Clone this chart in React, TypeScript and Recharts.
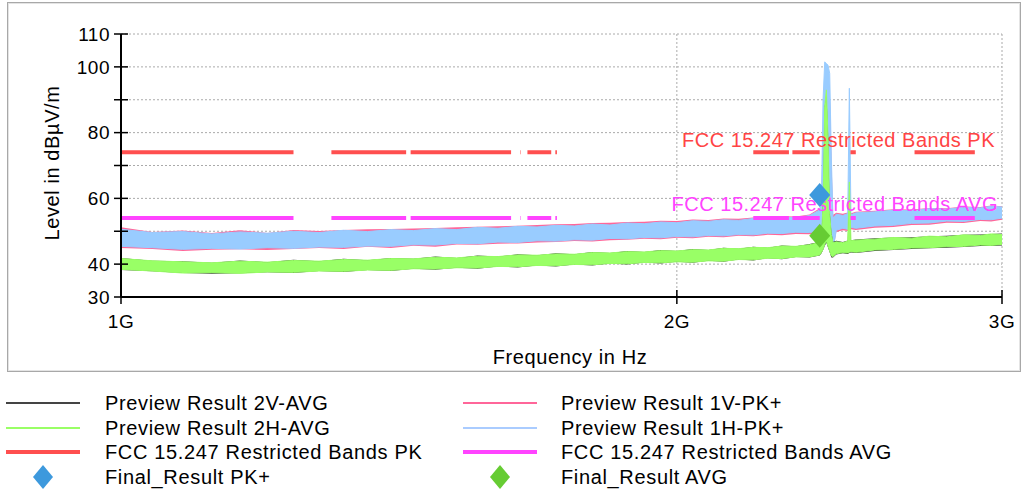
import React from "react";
import {
  ComposedChart,
  Area,
  Line,
  Scatter,
  XAxis,
  YAxis,
  CartesianGrid,
  ReferenceLine,
} from "recharts";

// frequency grid of the preview scans, MHz
const freqMHz = [
  1000, 1040, 1080, 1120, 1160, 1200, 1240, 1280, 1320, 1360, 1400, 1440, 1480, 1520, 1560,
  1600, 1640, 1680, 1720, 1760, 1800, 1840, 1880, 1920, 1960, 2000, 2040, 2080, 2120, 2160,
  2200, 2240, 2280, 2320, 2360, 2390, 2395, 2400, 2405, 2410, 2415, 2420, 2425, 2430, 2440,
  2460, 2475, 2480, 2485, 2500, 2560, 2620, 2680, 2740, 2800, 2860, 2920, 2960, 3000,
];

// Preview Result 1V-PK+ (min / max of the noisy trace)
const pk1VLow = [
  44.9, 44.6, 44.0, 44.4, 44.5, 44.3, 44.6, 44.9, 44.6, 45.3, 44.9, 45.6, 45.3, 46.0, 45.9,
  46.2, 46.3, 46.6, 46.7, 47.0, 46.9, 47.3, 47.4, 47.7, 47.6, 48.0, 47.9, 48.3, 48.2, 48.6,
  48.5, 48.9, 48.8, 49.2, 49.1, 49.7, 50.2, 51.5, 54.0, 58.0, 56.0, 52.0, 45.5, 44.0, 49.8,
  50.3, 50.1, 50.5, 50.6, 50.4, 51.1, 51.3, 51.9, 52.0, 52.6, 52.5, 53.1, 53.0, 53.5,
];
const pk1VHigh = [
  51.2, 49.8, 50.2, 49.5, 50.3, 49.5, 50.4, 50.1, 50.4, 50.6, 50.7, 50.8, 51.0, 51.2, 51.4,
  51.5, 51.7, 51.9, 52.1, 52.2, 52.5, 52.6, 52.8, 52.9, 53.2, 53.1, 53.6, 53.4, 53.9, 53.8,
  54.2, 54.1, 54.6, 54.5, 55.1, 57.0, 60.0, 85.0, 96.0, 97.0, 96.5, 94.0, 74.0, 55.0, 55.6,
  55.3, 55.7, 60.0, 55.5, 55.9, 56.2, 56.7, 56.6, 57.1, 57.0, 57.5, 57.4, 57.8, 57.6,
];

// Preview Result 1H-PK+
const pk1HLow = [
  45.4, 45.0, 44.5, 44.8, 44.6, 45.0, 44.8, 45.2, 45.1, 45.5, 45.4, 45.9, 45.8, 46.3, 46.2,
  46.7, 46.6, 47.1, 47.0, 47.4, 47.3, 47.8, 47.7, 48.1, 48.0, 48.4, 48.3, 48.7, 48.6, 49.0,
  48.9, 49.4, 49.3, 49.7, 49.6, 50.2, 50.8, 52.0, 55.0, 60.0, 57.0, 53.0, 46.0, 44.5, 50.3,
  50.9, 50.6, 51.0, 51.2, 50.9, 51.6, 51.8, 52.4, 52.5, 53.1, 53.0, 53.6, 53.5, 54.0,
];
const pk1HHigh = [
  50.6, 49.6, 49.9, 49.2, 49.8, 49.4, 50.0, 49.6, 50.3, 49.9, 50.5, 50.2, 50.8, 50.5, 51.2,
  50.9, 51.5, 51.3, 51.8, 51.6, 52.2, 51.9, 52.5, 52.3, 52.8, 52.6, 53.2, 53.0, 53.5, 53.3,
  53.9, 53.7, 54.3, 54.1, 54.8, 56.5, 59.0, 90.0, 101.5, 101.0, 100.5, 98.0, 72.0, 54.0, 55.2,
  54.8, 55.4, 93.5, 55.0, 55.6, 55.9, 56.4, 56.2, 56.9, 56.7, 57.3, 57.1, 57.6, 57.4,
];

// Preview Result 2V-AVG
const avg2VLow = [
  38.2, 37.8, 37.3, 37.1, 37.2, 37.5, 37.3, 37.9, 37.6, 38.2, 37.9, 38.6, 38.3, 38.9, 38.6,
  39.3, 39.0, 39.6, 39.3, 39.9, 39.6, 40.2, 39.9, 40.5, 40.2, 40.7, 40.4, 41.0, 40.7, 41.4,
  41.1, 41.8, 41.5, 42.2, 42.0, 42.6, 43.2, 44.2, 45.5, 46.5, 45.0, 43.5, 42.0, 42.0, 42.9,
  43.3, 43.1, 43.4, 43.5, 43.4, 44.0, 44.3, 44.6, 44.8, 45.0, 45.2, 45.5, 45.5, 45.7,
];
const avg2VHigh = [
  41.9, 41.0, 40.9, 40.4, 41.1, 40.6, 41.3, 40.9, 41.6, 41.2, 41.9, 41.6, 42.3, 41.9, 42.6,
  42.3, 43.0, 42.7, 43.3, 43.0, 43.7, 43.4, 44.0, 43.7, 44.3, 44.0, 44.6, 44.3, 45.0, 44.7,
  45.3, 45.0, 45.7, 45.4, 46.1, 46.8, 48.5, 60.0, 88.0, 92.0, 80.0, 56.0, 50.0, 46.8, 47.1,
  46.7, 47.2, 64.0, 47.3, 47.5, 47.9, 48.1, 48.2, 48.5, 48.6, 48.9, 49.0, 49.2, 49.3,
];

// Preview Result 2H-AVG
const avg2HLow = [
  38.4, 37.9, 37.3, 37.4, 37.2, 37.6, 37.5, 37.9, 37.8, 38.2, 38.1, 38.6, 38.5, 38.9, 38.8,
  39.3, 39.2, 39.6, 39.5, 39.9, 39.8, 40.2, 40.1, 40.5, 40.4, 40.7, 40.6, 41.0, 40.9, 41.4,
  41.3, 41.8, 41.7, 42.2, 42.2, 42.8, 43.5, 44.5, 46.0, 47.0, 45.5, 44.0, 42.5, 42.3, 43.2,
  43.5, 43.4, 43.6, 43.8, 43.6, 44.3, 44.5, 44.9, 45.0, 45.3, 45.4, 45.8, 45.7, 46.0,
];
const avg2HHigh = [
  41.7, 41.0, 40.7, 40.4, 40.9, 40.6, 41.1, 40.9, 41.4, 41.2, 41.7, 41.6, 42.1, 41.9, 42.4,
  42.3, 42.8, 42.7, 43.1, 43.0, 43.5, 43.4, 43.8, 43.7, 44.1, 44.0, 44.4, 44.3, 44.8, 44.7,
  45.1, 45.0, 45.5, 45.4, 45.9, 46.6, 48.0, 58.0, 88.0, 93.0, 78.0, 55.0, 49.0, 46.5, 46.8,
  46.5, 47.0, 65.0, 47.1, 47.3, 47.6, 48.1, 47.9, 48.5, 48.3, 48.9, 48.7, 49.2, 49.0,
];

// FCC 15.205 restricted bands inside the plot, MHz
const bandStartMHz = [1000, 1300, 1435, 1645.5, 1660, 1718.8, 2200, 2310, 2483.5, 2690];
const bandStopMHz = [1240, 1427, 1626.5, 1646.5, 1710, 1722.2, 2300, 2390, 2500, 2900];
const pkLimit = 74;
const avgLimit = 54;

const finalFreqMHz = [2390];
const finalPkLevel = [61.0];
const finalAvgLevel = [48.6];

const xTicks = [1000, 2000, 3000];
const yTicks = [30, 40, 50, 60, 70, 80, 90, 100, 110];
const yLabelled = [30, 40, 60, 80, 100, 110];

const traceData = freqMHz.map((f, i) => ({
  f,
  pk1V: [pk1VLow[i], pk1VHigh[i]],
  pk1H: [pk1HLow[i], pk1HHigh[i]],
  avg2V: [avg2VLow[i], avg2VHigh[i]],
  avg2H: [avg2HLow[i], avg2HHigh[i]],
}));

const limitData = bandStartMHz.flatMap((start, i) => [
  { f: start, pk: pkLimit, avg: avgLimit },
  { f: bandStopMHz[i], pk: pkLimit, avg: avgLimit },
  { f: bandStopMHz[i], pk: null, avg: null },
]);

const finalPk = finalFreqMHz.map((f, i) => ({ f, v: finalPkLevel[i] }));
const finalAvg = finalFreqMHz.map((f, i) => ({ f, v: finalAvgLevel[i] }));

const FONT = '"Liberation Sans", Arial, Helvetica, sans-serif';

const C = {
  black: "#333333",
  green: "#99ff66",
  red: "#ff4f4f",
  pink: "#ff6699",
  blue: "#99ccff",
  magenta: "#ff44ff",
  markBlue: "#3d99dd",
  markGreen: "#66cc33",
};

function YTick(props: any) {
  const { x, y, payload } = props;
  const show = yLabelled.includes(payload.value);
  return (
    <g>
      <line x1={x - 7} x2={x + 7} y1={y} y2={y} stroke="#000" strokeWidth={1.5} />
      {show && (
        <text x={x - 11} y={y} dy="0.36em" textAnchor="end" fontSize={19} fontFamily={FONT} fill="#000" style={{ letterSpacing: 0.5 }}>
          {payload.value}
        </text>
      )}
    </g>
  );
}

function XTick(props: any) {
  const { x, y, payload } = props;
  return (
    <g>
      <line x1={x} x2={x} y1={y - 7} y2={y + 7} stroke="#000" strokeWidth={1.5} />
      <text x={x} y={y + 31} textAnchor="middle" fontSize={19} fontFamily={FONT} fill="#000" style={{ letterSpacing: 0.5 }}>
        {payload.value / 1000 + "G"}
      </text>
    </g>
  );
}

function Diamond(props: any) {
  const { cx, cy, fill } = props;
  if (cx == null || cy == null) return null;
  return <polygon points={`${cx},${cy - 12} ${cx + 10.5},${cy} ${cx},${cy + 12} ${cx - 10.5},${cy}`} fill={fill} />;
}

function limitLabel(text: string, color: string, dx: number, dy: number) {
  return (p: any) => {
    const vb = p.viewBox || {};
    return (
      <text
        x={vb.x + vb.width - dx}
        y={vb.y - dy}
        textAnchor="end"
        fontSize={20}
        fontFamily={FONT}
        fill={color}
        style={{ letterSpacing: 0.5 }}
      >
        {text}
      </text>
    );
  };
}

const legendItems = [
  { name: "Preview Result 2V-AVG", kind: "line", color: "#444", w: 2 },
  { name: "Preview Result 1V-PK+", kind: "line", color: C.pink, w: 2 },
  { name: "Preview Result 2H-AVG", kind: "line", color: C.green, w: 2 },
  { name: "Preview Result 1H-PK+", kind: "line", color: "#aaccff", w: 2 },
  { name: "FCC 15.247 Restricted Bands PK", kind: "line", color: C.red, w: 4 },
  { name: "FCC 15.247 Restricted Bands AVG", kind: "line", color: C.magenta, w: 4 },
  { name: "Final_Result PK+", kind: "diamond", color: C.markBlue, w: 0 },
  { name: "Final_Result AVG", kind: "diamond", color: C.markGreen, w: 0 },
];

function LegendBlock() {
  return (
    <div style={{ position: "absolute", left: 0, top: 0 }}>
      {legendItems.map((it, i) => {
        const row = Math.floor(i / 2);
        const col = i % 2;
        const cy = 403 + row * 24.5;
        const lx = col === 0 ? 6 : 463;
        const tx = col === 0 ? 105 : 561;
        return (
          <React.Fragment key={it.name}>
            {it.kind === "line" ? (
              <div
                style={{
                  position: "absolute",
                  left: lx,
                  top: cy - it.w / 2,
                  width: 74,
                  height: it.w,
                  background: it.color,
                }}
              />
            ) : (
              <svg style={{ position: "absolute", left: lx + 26, top: cy - 12 }} width={22} height={24}>
                <polygon points="11,0 21,12 11,24 1,12" fill={it.color} />
              </svg>
            )}
            <div
              style={{
                position: "absolute",
                left: tx,
                top: cy - 12,
                height: 24,
                lineHeight: "24px",
                fontSize: 20,
                fontFamily: FONT,
                letterSpacing: 0.65,
                whiteSpace: "nowrap",
                color: "#000",
              }}
            >
              {it.name}
            </div>
          </React.Fragment>
        );
      })}
    </div>
  );
}

export default function App() {
  return (
    <div style={{ position: "absolute", left: 0, top: 0, width: 1029, height: 490, background: "#fff", fontFamily: FONT }}>
      <div
        style={{
          position: "absolute",
          left: 7,
          top: 2,
          width: 1012,
          height: 368,
          border: "1px solid #a8a8a8",
          boxShadow: "inset 0 0 0 1px #e4e4e4",
        }}
      />
      <div style={{ position: "absolute", left: 0, top: 0 }}>
        <ComposedChart
          width={1029}
          height={380}
          data={traceData}
          margin={{ top: 34, right: 27, bottom: 43, left: 61 }}
        >
          <CartesianGrid stroke="#aaaaaa" strokeDasharray="2 2" />
          <XAxis
            dataKey="f"
            type="number"
            scale="log"
            domain={[1000, 3000]}
            allowDataOverflow
            ticks={xTicks}
            height={40}
            tickSize={0}
            tickMargin={0}
            tickLine={false}
            axisLine={{ stroke: "#000", strokeWidth: 2 }}
            tick={<XTick />}
            interval={0}
          />
          <YAxis
            type="number"
            domain={[30, 110]}
            allowDataOverflow
            ticks={yTicks}
            width={60}
            tickSize={0}
            tickMargin={0}
            tickLine={false}
            axisLine={{ stroke: "#000", strokeWidth: 2 }}
            tick={<YTick />}
            interval={0}
          />
          <Area dataKey="pk1V" type="linear" stroke="none" fill={C.pink} fillOpacity={1} isAnimationActive={false} dot={false} activeDot={false} />
          <Area dataKey="pk1H" type="linear" stroke={C.blue} strokeWidth={1} fill={C.blue} fillOpacity={1} isAnimationActive={false} dot={false} activeDot={false} />
          <Area dataKey="avg2V" type="linear" stroke="none" fill={C.black} fillOpacity={1} isAnimationActive={false} dot={false} activeDot={false} />
          <Area dataKey="avg2H" type="linear" stroke={C.green} strokeWidth={1} fill={C.green} fillOpacity={1} isAnimationActive={false} dot={false} activeDot={false} />
          <Line data={limitData} dataKey="pk" type="linear" stroke={C.red} strokeWidth={4} dot={false} activeDot={false} isAnimationActive={false} />
          <Line data={limitData} dataKey="avg" type="linear" stroke={C.magenta} strokeWidth={4} dot={false} activeDot={false} isAnimationActive={false} />
          <ReferenceLine y={pkLimit} stroke="none" strokeOpacity={0} label={limitLabel("FCC 15.247 Restricted Bands PK", "#ff4444", 7, 5)} />
          <ReferenceLine y={avgLimit} stroke="none" strokeOpacity={0} label={limitLabel("FCC 15.247 Restricted Bands AVG", C.magenta, 4, 7)} />
          <Scatter data={finalPk} dataKey="v" fill={C.markBlue} shape={<Diamond />} isAnimationActive={false} />
          <Scatter data={finalAvg} dataKey="v" fill={C.markGreen} shape={<Diamond />} isAnimationActive={false} />
        </ComposedChart>
      </div>
      <div
        style={{
          position: "absolute",
          left: 52 - 100,
          top: 163 - 12,
          width: 200,
          height: 24,
          lineHeight: "24px",
          textAlign: "center",
          fontSize: 20,
          letterSpacing: 0.6,
          transform: "rotate(-90deg)",
          whiteSpace: "nowrap",
        }}
      >
        Level in dBµV/m
      </div>
      <div
        style={{
          position: "absolute",
          left: 570 - 150,
          top: 345,
          width: 300,
          height: 24,
          lineHeight: "24px",
          textAlign: "center",
          fontSize: 20,
          letterSpacing: 0.6,
          whiteSpace: "nowrap",
        }}
      >
        Frequency in Hz
      </div>
      <LegendBlock />
    </div>
  );
}
